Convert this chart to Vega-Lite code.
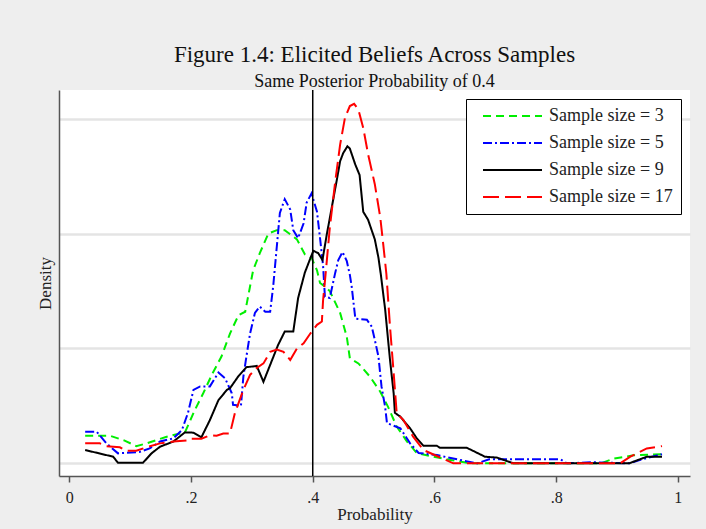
{
  "$schema": "https://vega.github.io/schema/vega-lite/v6.json",
  "autosize": {"type": "none"},
  "width": 631,
  "height": 386,
  "padding": {"left": 59, "top": 90, "right": 16, "bottom": 53},
  "background": "#eeeeee",
  "title": {
    "text": "Figure 1.4: Elicited Beliefs Across Samples",
    "subtitle": "Same Posterior Probability of 0.4",
    "font": "Liberation Serif",
    "fontSize": 23,
    "fontWeight": "normal",
    "color": "#111111",
    "subtitleFont": "Liberation Serif",
    "subtitleFontSize": 18,
    "subtitleColor": "#111111",
    "subtitlePadding": 6,
    "anchor": "middle",
    "offset": -2
  },
  "config": {
    "view": {"fill": "#ffffff", "stroke": null},
    "axis": {"labelFont": "Liberation Serif", "titleFont": "Liberation Serif", "titleFontWeight": "normal", "labelColor": "#222222", "titleColor": "#222222", "domainColor": "#555555", "domainWidth": 1.5, "tickColor": "#555555", "tickWidth": 1.5},
    "legend": {
      "title": null,
      "orient": "none", "legendX": 407, "legendY": 9,
      "strokeColor": "#000000", "fillColor": "#ffffff", "padding": 8,
      "labelFont": "Liberation Serif", "labelFontSize": 18, "labelColor": "#222222",
      "symbolSize": 100, "symbolStrokeWidth": 2, "symbolType": "M0,0H11.8",
      "labelOffset": 57, "rowPadding": 9
    }
  },
  "datasets": {
    "curves": [
      {"series": "Sample size = 3", "prob": 0.026, "density": 0.24},
      {"series": "Sample size = 3", "prob": 0.067, "density": 0.24},
      {"series": "Sample size = 3", "prob": 0.09, "density": 0.2},
      {"series": "Sample size = 3", "prob": 0.11, "density": 0.15},
      {"series": "Sample size = 3", "prob": 0.127, "density": 0.174},
      {"series": "Sample size = 3", "prob": 0.16, "density": 0.232},
      {"series": "Sample size = 3", "prob": 0.182, "density": 0.26},
      {"series": "Sample size = 3", "prob": 0.19, "density": 0.27},
      {"series": "Sample size = 3", "prob": 0.205, "density": 0.45},
      {"series": "Sample size = 3", "prob": 0.22, "density": 0.61},
      {"series": "Sample size = 3", "prob": 0.235, "density": 0.78},
      {"series": "Sample size = 3", "prob": 0.25, "density": 0.93},
      {"series": "Sample size = 3", "prob": 0.264, "density": 1.13},
      {"series": "Sample size = 3", "prob": 0.278, "density": 1.29},
      {"series": "Sample size = 3", "prob": 0.289, "density": 1.32},
      {"series": "Sample size = 3", "prob": 0.302, "density": 1.68},
      {"series": "Sample size = 3", "prob": 0.313, "density": 1.83},
      {"series": "Sample size = 3", "prob": 0.327, "density": 2.0},
      {"series": "Sample size = 3", "prob": 0.341, "density": 2.03},
      {"series": "Sample size = 3", "prob": 0.354, "density": 2.03},
      {"series": "Sample size = 3", "prob": 0.374, "density": 1.95},
      {"series": "Sample size = 3", "prob": 0.387, "density": 1.82},
      {"series": "Sample size = 3", "prob": 0.398, "density": 1.79},
      {"series": "Sample size = 3", "prob": 0.407, "density": 1.68},
      {"series": "Sample size = 3", "prob": 0.412, "density": 1.57},
      {"series": "Sample size = 3", "prob": 0.42, "density": 1.54},
      {"series": "Sample size = 3", "prob": 0.428, "density": 1.5},
      {"series": "Sample size = 3", "prob": 0.445, "density": 1.31},
      {"series": "Sample size = 3", "prob": 0.456, "density": 1.1},
      {"series": "Sample size = 3", "prob": 0.461, "density": 0.915},
      {"series": "Sample size = 3", "prob": 0.475, "density": 0.87},
      {"series": "Sample size = 3", "prob": 0.494, "density": 0.755},
      {"series": "Sample size = 3", "prob": 0.511, "density": 0.624},
      {"series": "Sample size = 3", "prob": 0.524, "density": 0.49},
      {"series": "Sample size = 3", "prob": 0.538, "density": 0.32},
      {"series": "Sample size = 3", "prob": 0.555, "density": 0.19},
      {"series": "Sample size = 3", "prob": 0.571, "density": 0.09},
      {"series": "Sample size = 3", "prob": 0.598, "density": 0.058},
      {"series": "Sample size = 3", "prob": 0.626, "density": 0.03},
      {"series": "Sample size = 3", "prob": 0.66, "density": 0.0},
      {"series": "Sample size = 3", "prob": 0.873, "density": 0.0},
      {"series": "Sample size = 3", "prob": 0.894, "density": 0.04},
      {"series": "Sample size = 3", "prob": 0.927, "density": 0.07},
      {"series": "Sample size = 3", "prob": 0.974, "density": 0.08},

      {"series": "Sample size = 5", "prob": 0.026, "density": 0.275},
      {"series": "Sample size = 5", "prob": 0.045, "density": 0.275},
      {"series": "Sample size = 5", "prob": 0.061, "density": 0.174},
      {"series": "Sample size = 5", "prob": 0.08, "density": 0.087},
      {"series": "Sample size = 5", "prob": 0.094, "density": 0.092},
      {"series": "Sample size = 5", "prob": 0.116, "density": 0.1},
      {"series": "Sample size = 5", "prob": 0.132, "density": 0.13},
      {"series": "Sample size = 5", "prob": 0.149, "density": 0.19},
      {"series": "Sample size = 5", "prob": 0.171, "density": 0.218},
      {"series": "Sample size = 5", "prob": 0.185, "density": 0.29},
      {"series": "Sample size = 5", "prob": 0.195, "density": 0.44},
      {"series": "Sample size = 5", "prob": 0.204, "density": 0.64},
      {"series": "Sample size = 5", "prob": 0.215, "density": 0.67},
      {"series": "Sample size = 5", "prob": 0.231, "density": 0.67},
      {"series": "Sample size = 5", "prob": 0.245, "density": 0.79},
      {"series": "Sample size = 5", "prob": 0.256, "density": 0.74},
      {"series": "Sample size = 5", "prob": 0.267, "density": 0.61},
      {"series": "Sample size = 5", "prob": 0.269, "density": 0.51},
      {"series": "Sample size = 5", "prob": 0.282, "density": 0.5},
      {"series": "Sample size = 5", "prob": 0.286, "density": 0.755},
      {"series": "Sample size = 5", "prob": 0.291, "density": 0.93},
      {"series": "Sample size = 5", "prob": 0.297, "density": 1.13},
      {"series": "Sample size = 5", "prob": 0.305, "density": 1.31},
      {"series": "Sample size = 5", "prob": 0.313, "density": 1.365},
      {"series": "Sample size = 5", "prob": 0.322, "density": 1.32},
      {"series": "Sample size = 5", "prob": 0.33, "density": 1.32},
      {"series": "Sample size = 5", "prob": 0.335, "density": 1.54},
      {"series": "Sample size = 5", "prob": 0.341, "density": 1.89},
      {"series": "Sample size = 5", "prob": 0.346, "density": 2.18},
      {"series": "Sample size = 5", "prob": 0.354, "density": 2.3},
      {"series": "Sample size = 5", "prob": 0.363, "density": 2.21},
      {"series": "Sample size = 5", "prob": 0.368, "density": 2.03},
      {"series": "Sample size = 5", "prob": 0.376, "density": 1.96},
      {"series": "Sample size = 5", "prob": 0.385, "density": 2.09},
      {"series": "Sample size = 5", "prob": 0.39, "density": 2.27},
      {"series": "Sample size = 5", "prob": 0.398, "density": 2.35},
      {"series": "Sample size = 5", "prob": 0.407, "density": 2.19},
      {"series": "Sample size = 5", "prob": 0.412, "density": 1.96},
      {"series": "Sample size = 5", "prob": 0.417, "density": 1.72},
      {"series": "Sample size = 5", "prob": 0.42, "density": 1.45},
      {"series": "Sample size = 5", "prob": 0.428, "density": 1.44},
      {"series": "Sample size = 5", "prob": 0.437, "density": 1.66},
      {"series": "Sample size = 5", "prob": 0.442, "density": 1.77},
      {"series": "Sample size = 5", "prob": 0.449, "density": 1.84},
      {"series": "Sample size = 5", "prob": 0.456, "density": 1.76},
      {"series": "Sample size = 5", "prob": 0.461, "density": 1.64},
      {"series": "Sample size = 5", "prob": 0.464, "density": 1.54},
      {"series": "Sample size = 5", "prob": 0.47, "density": 1.26},
      {"series": "Sample size = 5", "prob": 0.478, "density": 1.255},
      {"series": "Sample size = 5", "prob": 0.489, "density": 1.25},
      {"series": "Sample size = 5", "prob": 0.497, "density": 1.19},
      {"series": "Sample size = 5", "prob": 0.502, "density": 1.075},
      {"series": "Sample size = 5", "prob": 0.508, "density": 0.93},
      {"series": "Sample size = 5", "prob": 0.513, "density": 0.67},
      {"series": "Sample size = 5", "prob": 0.519, "density": 0.49},
      {"series": "Sample size = 5", "prob": 0.522, "density": 0.35},
      {"series": "Sample size = 5", "prob": 0.53, "density": 0.334},
      {"series": "Sample size = 5", "prob": 0.544, "density": 0.305},
      {"series": "Sample size = 5", "prob": 0.56, "density": 0.174},
      {"series": "Sample size = 5", "prob": 0.574, "density": 0.09},
      {"series": "Sample size = 5", "prob": 0.604, "density": 0.072},
      {"series": "Sample size = 5", "prob": 0.642, "density": 0.03},
      {"series": "Sample size = 5", "prob": 0.67, "density": 0.0},
      {"series": "Sample size = 5", "prob": 0.69, "density": 0.035},
      {"series": "Sample size = 5", "prob": 0.807, "density": 0.035},
      {"series": "Sample size = 5", "prob": 0.818, "density": 0.0},
      {"series": "Sample size = 5", "prob": 0.862, "density": 0.01},
      {"series": "Sample size = 5", "prob": 0.92, "density": 0.0},
      {"series": "Sample size = 5", "prob": 0.944, "density": 0.04},
      {"series": "Sample size = 5", "prob": 0.974, "density": 0.08},

      {"series": "Sample size = 9", "prob": 0.026, "density": 0.116},
      {"series": "Sample size = 9", "prob": 0.045, "density": 0.092},
      {"series": "Sample size = 9", "prob": 0.072, "density": 0.058},
      {"series": "Sample size = 9", "prob": 0.08, "density": 0.005},
      {"series": "Sample size = 9", "prob": 0.121, "density": 0.005},
      {"series": "Sample size = 9", "prob": 0.135, "density": 0.087},
      {"series": "Sample size = 9", "prob": 0.149, "density": 0.145},
      {"series": "Sample size = 9", "prob": 0.171, "density": 0.19},
      {"series": "Sample size = 9", "prob": 0.19, "density": 0.27},
      {"series": "Sample size = 9", "prob": 0.204, "density": 0.267},
      {"series": "Sample size = 9", "prob": 0.217, "density": 0.227},
      {"series": "Sample size = 9", "prob": 0.231, "density": 0.377},
      {"series": "Sample size = 9", "prob": 0.245, "density": 0.55},
      {"series": "Sample size = 9", "prob": 0.259, "density": 0.64},
      {"series": "Sample size = 9", "prob": 0.264, "density": 0.654},
      {"series": "Sample size = 9", "prob": 0.278, "density": 0.76},
      {"series": "Sample size = 9", "prob": 0.291, "density": 0.837},
      {"series": "Sample size = 9", "prob": 0.308, "density": 0.848},
      {"series": "Sample size = 9", "prob": 0.319, "density": 0.71},
      {"series": "Sample size = 9", "prob": 0.33, "density": 0.857},
      {"series": "Sample size = 9", "prob": 0.343, "density": 1.03},
      {"series": "Sample size = 9", "prob": 0.354, "density": 1.147},
      {"series": "Sample size = 9", "prob": 0.368, "density": 1.147},
      {"series": "Sample size = 9", "prob": 0.376, "density": 1.44},
      {"series": "Sample size = 9", "prob": 0.387, "density": 1.66},
      {"series": "Sample size = 9", "prob": 0.395, "density": 1.77},
      {"series": "Sample size = 9", "prob": 0.401, "density": 1.85},
      {"series": "Sample size = 9", "prob": 0.409, "density": 1.83},
      {"series": "Sample size = 9", "prob": 0.416, "density": 1.77},
      {"series": "Sample size = 9", "prob": 0.423, "density": 1.99},
      {"series": "Sample size = 9", "prob": 0.431, "density": 2.22},
      {"series": "Sample size = 9", "prob": 0.44, "density": 2.48},
      {"series": "Sample size = 9", "prob": 0.445, "density": 2.63},
      {"series": "Sample size = 9", "prob": 0.45, "density": 2.7},
      {"series": "Sample size = 9", "prob": 0.457, "density": 2.76},
      {"series": "Sample size = 9", "prob": 0.461, "density": 2.74},
      {"series": "Sample size = 9", "prob": 0.47, "density": 2.6},
      {"series": "Sample size = 9", "prob": 0.477, "density": 2.51},
      {"series": "Sample size = 9", "prob": 0.483, "density": 2.19},
      {"series": "Sample size = 9", "prob": 0.491, "density": 2.12},
      {"series": "Sample size = 9", "prob": 0.502, "density": 1.95},
      {"series": "Sample size = 9", "prob": 0.508, "density": 1.79},
      {"series": "Sample size = 9", "prob": 0.512, "density": 1.64},
      {"series": "Sample size = 9", "prob": 0.519, "density": 1.34},
      {"series": "Sample size = 9", "prob": 0.527, "density": 0.9},
      {"series": "Sample size = 9", "prob": 0.533, "density": 0.61},
      {"series": "Sample size = 9", "prob": 0.535, "density": 0.44},
      {"series": "Sample size = 9", "prob": 0.544, "density": 0.406},
      {"series": "Sample size = 9", "prob": 0.56, "density": 0.305},
      {"series": "Sample size = 9", "prob": 0.571, "density": 0.218},
      {"series": "Sample size = 9", "prob": 0.582, "density": 0.153},
      {"series": "Sample size = 9", "prob": 0.604, "density": 0.153},
      {"series": "Sample size = 9", "prob": 0.609, "density": 0.136},
      {"series": "Sample size = 9", "prob": 0.653, "density": 0.136},
      {"series": "Sample size = 9", "prob": 0.667, "density": 0.1},
      {"series": "Sample size = 9", "prob": 0.683, "density": 0.058},
      {"series": "Sample size = 9", "prob": 0.703, "density": 0.05},
      {"series": "Sample size = 9", "prob": 0.719, "density": 0.02},
      {"series": "Sample size = 9", "prob": 0.73, "density": 0.0},
      {"series": "Sample size = 9", "prob": 0.92, "density": 0.0},
      {"series": "Sample size = 9", "prob": 0.949, "density": 0.058},
      {"series": "Sample size = 9", "prob": 0.974, "density": 0.058},

      {"series": "Sample size = 17", "prob": 0.026, "density": 0.174},
      {"series": "Sample size = 17", "prob": 0.05, "density": 0.174},
      {"series": "Sample size = 17", "prob": 0.061, "density": 0.15},
      {"series": "Sample size = 17", "prob": 0.083, "density": 0.14},
      {"series": "Sample size = 17", "prob": 0.094, "density": 0.11},
      {"series": "Sample size = 17", "prob": 0.11, "density": 0.11},
      {"series": "Sample size = 17", "prob": 0.127, "density": 0.14},
      {"series": "Sample size = 17", "prob": 0.149, "density": 0.174},
      {"series": "Sample size = 17", "prob": 0.171, "density": 0.19},
      {"series": "Sample size = 17", "prob": 0.195, "density": 0.2},
      {"series": "Sample size = 17", "prob": 0.198, "density": 0.215},
      {"series": "Sample size = 17", "prob": 0.217, "density": 0.215},
      {"series": "Sample size = 17", "prob": 0.231, "density": 0.244},
      {"series": "Sample size = 17", "prob": 0.242, "density": 0.24},
      {"series": "Sample size = 17", "prob": 0.253, "density": 0.26},
      {"series": "Sample size = 17", "prob": 0.264, "density": 0.26},
      {"series": "Sample size = 17", "prob": 0.272, "density": 0.436},
      {"series": "Sample size = 17", "prob": 0.286, "density": 0.64},
      {"series": "Sample size = 17", "prob": 0.297, "density": 0.77},
      {"series": "Sample size = 17", "prob": 0.308, "density": 0.83},
      {"series": "Sample size = 17", "prob": 0.319, "density": 0.87},
      {"series": "Sample size = 17", "prob": 0.33, "density": 0.97},
      {"series": "Sample size = 17", "prob": 0.341, "density": 0.99},
      {"series": "Sample size = 17", "prob": 0.352, "density": 0.97},
      {"series": "Sample size = 17", "prob": 0.363, "density": 0.9},
      {"series": "Sample size = 17", "prob": 0.374, "density": 1.0},
      {"series": "Sample size = 17", "prob": 0.385, "density": 1.046},
      {"series": "Sample size = 17", "prob": 0.396, "density": 1.13},
      {"series": "Sample size = 17", "prob": 0.407, "density": 1.206},
      {"series": "Sample size = 17", "prob": 0.415, "density": 1.235},
      {"series": "Sample size = 17", "prob": 0.417, "density": 1.42},
      {"series": "Sample size = 17", "prob": 0.421, "density": 1.64},
      {"series": "Sample size = 17", "prob": 0.428, "density": 2.05},
      {"series": "Sample size = 17", "prob": 0.437, "density": 2.455},
      {"series": "Sample size = 17", "prob": 0.445, "density": 2.775},
      {"series": "Sample size = 17", "prob": 0.453, "density": 3.01},
      {"series": "Sample size = 17", "prob": 0.461, "density": 3.11},
      {"series": "Sample size = 17", "prob": 0.468, "density": 3.13},
      {"series": "Sample size = 17", "prob": 0.475, "density": 3.08},
      {"series": "Sample size = 17", "prob": 0.483, "density": 2.92},
      {"series": "Sample size = 17", "prob": 0.491, "density": 2.69},
      {"series": "Sample size = 17", "prob": 0.502, "density": 2.43},
      {"series": "Sample size = 17", "prob": 0.511, "density": 2.14},
      {"series": "Sample size = 17", "prob": 0.516, "density": 1.9},
      {"series": "Sample size = 17", "prob": 0.521, "density": 1.65},
      {"series": "Sample size = 17", "prob": 0.527, "density": 1.19},
      {"series": "Sample size = 17", "prob": 0.533, "density": 0.785},
      {"series": "Sample size = 17", "prob": 0.538, "density": 0.436},
      {"series": "Sample size = 17", "prob": 0.549, "density": 0.377},
      {"series": "Sample size = 17", "prob": 0.565, "density": 0.232},
      {"series": "Sample size = 17", "prob": 0.582, "density": 0.116},
      {"series": "Sample size = 17", "prob": 0.604, "density": 0.064},
      {"series": "Sample size = 17", "prob": 0.631, "density": 0.0},
      {"series": "Sample size = 17", "prob": 0.905, "density": 0.0},
      {"series": "Sample size = 17", "prob": 0.922, "density": 0.058},
      {"series": "Sample size = 17", "prob": 0.949, "density": 0.13},
      {"series": "Sample size = 17", "prob": 0.974, "density": 0.15}
    ],
    "reference": [{"prob": 0.4}]
  },
  "layer": [
    {
      "data": {"name": "curves"},
      "mark": {"type": "line", "strokeWidth": 2, "interpolate": "linear"},
      "encoding": {
        "x": {
          "field": "prob", "type": "quantitative",
          "scale": {"domain": [-0.017, 1.02], "nice": false, "zero": false},
          "axis": {
            "values": [0, 0.2, 0.4, 0.6, 0.8, 1],
            "labelExpr": "datum.value == 0 ? '0' : datum.value == 1 ? '1' : replace(format(datum.value, '.1f'), '0.', '.')",
            "grid": false, "tickSize": 6, "labelPadding": 7, "labelFontSize": 16,
            "title": "Probability", "titleFontSize": 17, "titlePadding": 1
          }
        },
        "y": {
          "field": "density", "type": "quantitative",
          "scale": {"domain": [-0.11, 3.25], "nice": false, "zero": false},
          "axis": {
            "values": [0, 1, 2, 3], "labels": false, "ticks": false,
            "grid": true, "gridColor": "#e4e4e4", "gridWidth": 2.5,
            "title": "Density", "titleFontSize": 17, "titlePadding": 5
          }
        },
        "color": {
          "field": "series", "type": "nominal",
          "scale": {"domain": ["Sample size = 3", "Sample size = 5", "Sample size = 9", "Sample size = 17"], "range": ["#00ee00", "#0000ff", "#000000", "#ff0000"]}
        },
        "strokeDash": {
          "field": "series", "type": "nominal",
          "scale": {"domain": ["Sample size = 3", "Sample size = 5", "Sample size = 9", "Sample size = 17"], "range": [[8, 5], [9, 3, 2, 3], [1, 0], [16, 6]]}
        }
      }
    },
    {
      "data": {"name": "reference"},
      "mark": {"type": "rule", "color": "#000000", "strokeWidth": 1.5},
      "encoding": {"x": {"field": "prob", "type": "quantitative"}}
    }
  ]
}
